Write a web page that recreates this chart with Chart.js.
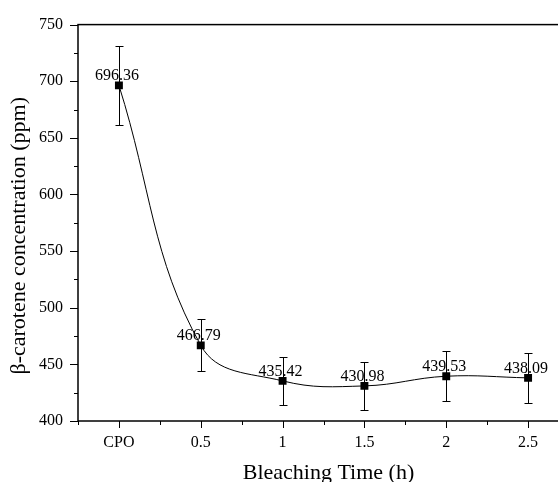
<!DOCTYPE html>
<html>
<head>
<meta charset="utf-8">
<script src="https://cdn.jsdelivr.net/npm/chart.js@4"></script>
<style>
  html, body { margin: 0; padding: 0; background: #fff; overflow: hidden; }
  #wrap { width: 558px; height: 482px; overflow: hidden; }
  canvas { display: block; }
</style>
</head>
<body>
<div id="wrap"><canvas id="grafico" width="590" height="500"></canvas></div>
<script>
// tempos de branqueamento e concentração de beta-caroteno medida
const categorias = ["CPO", "0.5", "1", "1.5", "2", "2.5"];
const concentracao = [696.36, 466.79, 435.42, 430.98, 439.53, 438.09];
const erros = [35, 23, 21.5, 21.5, 22, 22];
const yMin = 400, yMax = 750, yPasso = 50;

const fonte = "'Liberation Serif', 'Times New Roman', serif";
const tituloX = 'Bleaching Time (h)';
const tituloY = 'β-carotene concentration (ppm)';

// moldura, marcas dos eixos (maiores nos valores, menores a meio) e títulos
const eixosPlugin = {
    id: 'eixos',
    afterDraw(chart) {
        const ctx = chart.ctx;
        const { left, right, top, bottom } = chart.chartArea;
        const sx = chart.scales.x, sy = chart.scales.y;
        ctx.save();
        ctx.strokeStyle = '#000';
        ctx.lineWidth = 1;
        ctx.beginPath();
        for (let v = yMin; v <= yMax; v += yPasso / 2) {
            const py = Math.round(sy.getPixelForValue(v)) + 0.5;
            const len = v % yPasso === 0 ? 8 : 4;
            ctx.moveTo(left - len, py);
            ctx.lineTo(left, py);
        }
        for (let i = 0; i <= categorias.length * 2; i++) {
            const v = -0.5 + i * 0.5;
            const px = Math.round(sx.getPixelForValue(v)) + 0.5;
            const len = Number.isInteger(v) ? 7 : 4;
            ctx.moveTo(px, bottom);
            ctx.lineTo(px, bottom + len);
        }
        ctx.stroke();
        ctx.lineWidth = 1.5;
        ctx.strokeRect(left, top, right - left, bottom - top);

        ctx.fillStyle = '#000';
        ctx.font = "22px " + fonte;
        ctx.textAlign = 'center';
        ctx.textBaseline = 'alphabetic';
        ctx.fillText(tituloX, (left + right) / 2 + 5, bottom + 58);

        ctx.translate(19, (top + bottom) / 2 + 13);
        ctx.rotate(-Math.PI / 2);
        ctx.textBaseline = 'middle';
        ctx.fillText(tituloY, 0, 0);
        ctx.restore();
    }
};

// rótulos com o valor e barras de erro
const barrasPlugin = {
    id: 'barras',
    beforeDatasetsDraw(chart) {
        const ctx = chart.ctx;
        const meta = chart.getDatasetMeta(0);
        const sy = chart.scales.y;
        ctx.save();
        ctx.fillStyle = '#000';
        ctx.font = "16px " + fonte;
        ctx.textAlign = 'center';
        ctx.textBaseline = 'alphabetic';
        meta.data.forEach((pt, i) => {
            ctx.fillText(concentracao[i].toFixed(2), pt.x - 2, pt.y - 5);
        });
        ctx.strokeStyle = '#000';
        ctx.lineWidth = 1;
        ctx.beginPath();
        meta.data.forEach((pt, i) => {
            const x = Math.round(pt.x) + 0.5;
            const yTop = Math.round(sy.getPixelForValue(concentracao[i] + erros[i])) + 0.5;
            const yBot = Math.round(sy.getPixelForValue(concentracao[i] - erros[i])) + 0.5;
            ctx.moveTo(x, yTop); ctx.lineTo(x, yBot);
            ctx.moveTo(x - 4, yTop); ctx.lineTo(x + 4, yTop);
            ctx.moveTo(x - 4, yBot); ctx.lineTo(x + 4, yBot);
        });
        ctx.stroke();
        ctx.restore();
    }
};

new Chart(document.getElementById("grafico"), {
    type: 'line',
    data: {
        datasets: [{
            data: concentracao.map((v, i) => ({ x: i, y: v })),
            borderColor: '#000',
            borderWidth: 1,
            backgroundColor: '#000',
            pointStyle: 'rect',
            pointRadius: 5.6,
            pointBorderWidth: 0,
            tension: 0.4
        }]
    },
    options: {
        responsive: false,
        animation: false,
        layout: { padding: { top: 23, right: 21, left: 0, bottom: 0 } },
        plugins: { legend: { display: false }, tooltip: { enabled: false } },
        scales: {
            x: {
                type: 'linear',
                min: -0.5,
                max: categorias.length - 0.5,
                afterBuildTicks: s => { s.ticks = categorias.map((c, i) => ({ value: i })); },
                afterFit: s => { s.height = 79; },
                grid: { display: false, drawTicks: false },
                border: { display: false },
                ticks: {
                    autoSkip: false,
                    maxRotation: 0,
                    padding: 12,
                    color: '#000',
                    font: { family: fonte, size: 16 },
                    callback: v => categorias[v]
                }
            },
            y: {
                min: yMin,
                max: yMax,
                afterFit: s => { s.width = 78; },
                grid: { display: false, drawTicks: false },
                border: { display: false },
                ticks: {
                    stepSize: yPasso,
                    padding: 15,
                    color: '#000',
                    font: { family: fonte, size: 16 }
                }
            }
        }
    },
    plugins: [eixosPlugin, barrasPlugin]
});
</script>
</body>
</html>
